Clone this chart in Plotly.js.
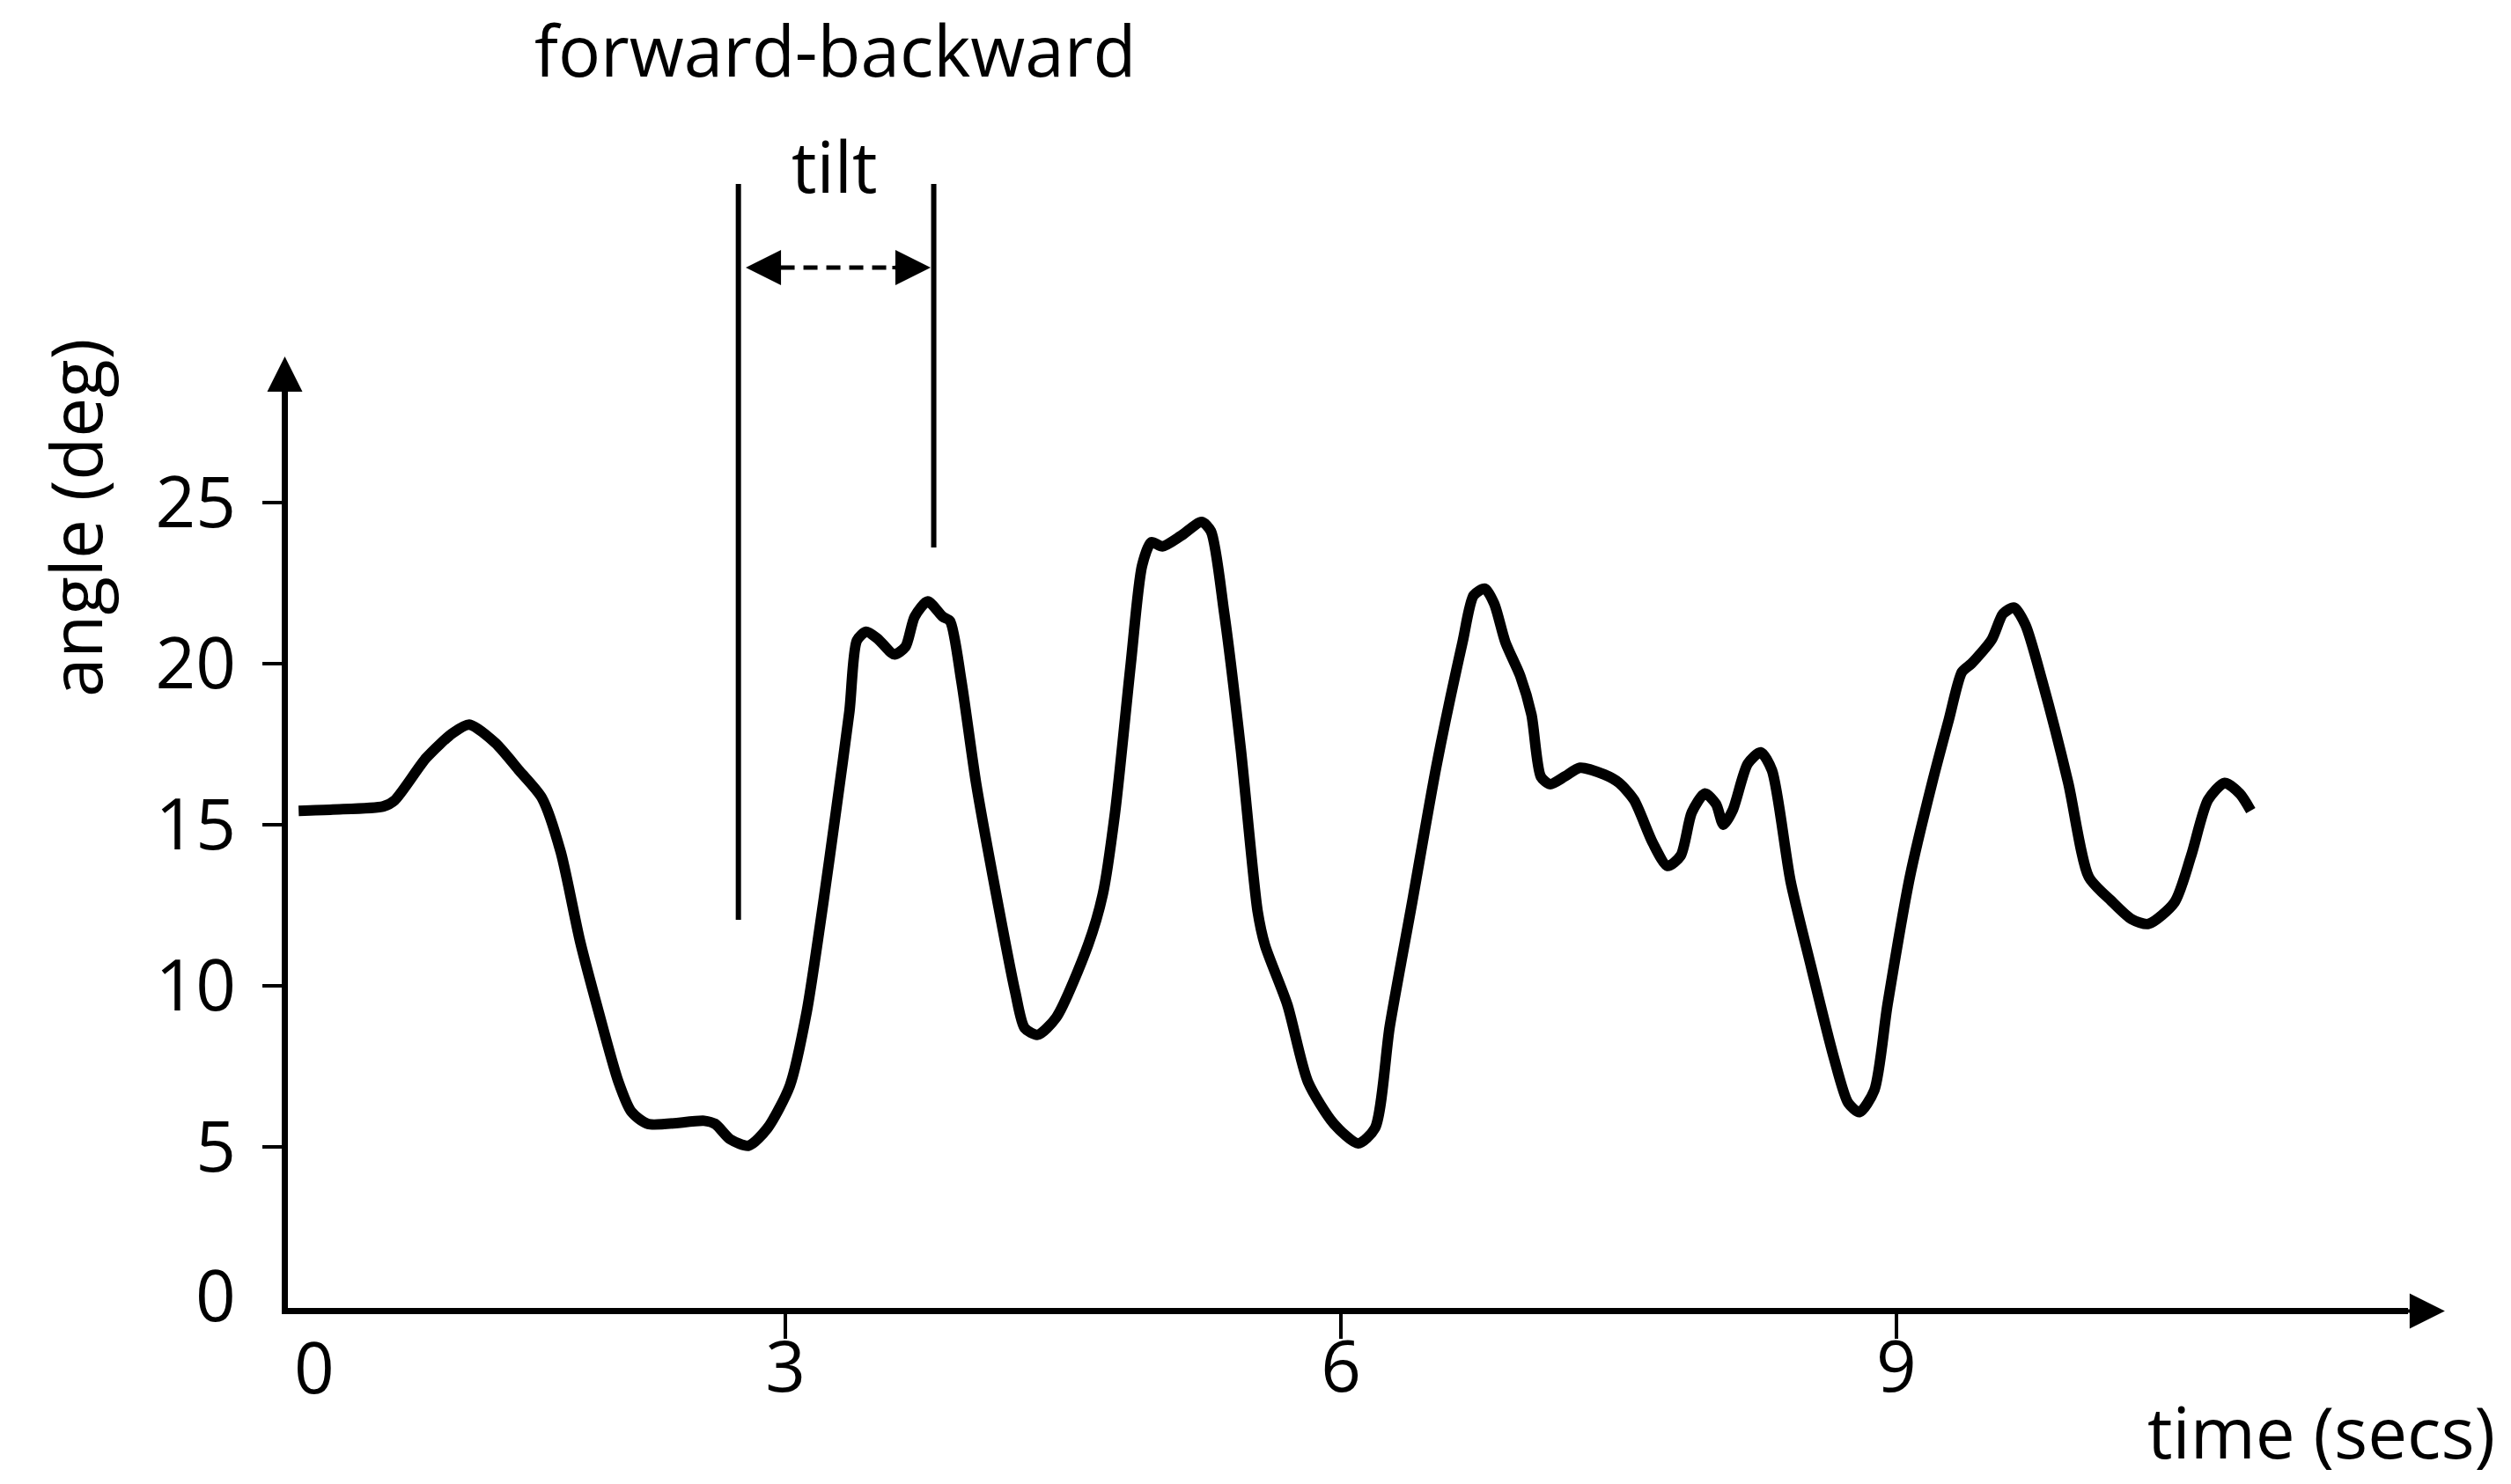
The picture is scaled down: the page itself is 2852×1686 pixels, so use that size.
<!DOCTYPE html>
<html>
<head>
<meta charset="utf-8">
<script src="https://cdn.plot.ly/plotly-3.0.1.min.js"></script>
<style>
  html, body { margin: 0; padding: 0; background: #fff; }
  #chart { width: 2852px; height: 1686px; }
</style>
</head>
<body>
<div id="chart"></div>
<script>
// angle trace (time in secs, angle in deg)
const timeSecs = [
  0.371, 0.555, 0.829, 0.890, 1.061, 1.202, 1.292, 1.433, 1.564, 1.685,
  1.786, 1.891, 1.987, 2.098, 2.168, 2.259, 2.561, 2.621, 2.701, 2.802,
  2.903, 3.024, 3.114, 3.205, 3.275, 3.346, 3.386, 3.436, 3.497, 3.587,
  3.648, 3.698, 3.768, 3.849, 3.889, 3.950, 4.030, 4.121, 4.241, 4.292,
  4.362, 4.463, 4.634, 4.714, 4.780, 4.865, 4.926, 4.976, 5.036, 5.137,
  5.248, 5.298, 5.369, 5.459, 5.550, 5.590, 5.711, 5.822, 5.963, 6.093,
  6.184, 6.264, 6.385, 6.516, 6.657, 6.717, 6.778, 6.828, 6.888, 6.969,
  7.029, 7.080, 7.130, 7.210, 7.291, 7.422, 7.502, 7.583, 7.684, 7.764,
  7.835, 7.895, 7.966, 8.026, 8.066, 8.116, 8.197, 8.267, 8.328, 8.428,
  8.539, 8.660, 8.740, 8.801, 8.881, 8.952, 9.073, 9.193, 9.284, 9.354,
  9.405, 9.515, 9.576, 9.636, 9.697, 9.787, 9.928, 10.039, 10.160, 10.270,
  10.361, 10.502, 10.592, 10.683, 10.773, 10.854, 10.914
];
const angleDeg = [
  15.43, 15.47, 15.57, 15.76, 17.08, 17.84, 18.11, 17.54, 16.67, 15.83,
  14.16, 11.38, 9.28, 7.02, 6.09, 5.71, 5.81, 5.71, 5.24, 5.04,
  5.58, 6.90, 9.16, 12.60, 15.50, 18.54, 20.72, 20.99, 20.78, 20.29,
  20.52, 21.46, 21.93, 21.46, 21.32, 19.47, 16.28, 13.37, 9.81, 8.69,
  8.48, 9.02, 11.26, 12.84, 15.37, 19.99, 23.04, 23.77, 23.64, 23.97,
  24.40, 24.11, 21.60, 17.36, 12.32, 11.26, 9.41, 7.02, 5.71, 5.11,
  5.58, 8.75, 12.60, 16.83, 20.67, 22.12, 22.33, 21.86, 20.67, 19.61,
  18.42, 16.49, 16.26, 16.50, 16.77, 16.56, 16.30, 15.77, 14.44, 13.72,
  14.04, 15.38, 15.97, 15.64, 15.00, 15.45, 16.89, 17.25, 16.69, 13.26,
  10.60, 7.82, 6.36, 6.08, 6.76, 9.41, 13.39, 16.30, 18.28, 19.74,
  20.00, 20.75, 21.55, 21.74, 21.20, 19.47, 16.30, 13.38, 12.64, 12.07,
  11.92, 12.59, 14.04, 15.77, 16.30, 15.97, 15.44
];

const xTicks = [3, 6, 9];
const yTicks = [5, 10, 15, 20, 25];

// tilt window markers (secs)
const tiltStart = 2.746;
const tiltEnd = 3.801;

const font = 'Open Sans, Noto Sans, sans-serif';

const trace = {
  x: timeSecs,
  y: angleDeg,
  type: 'scatter',
  mode: 'lines',
  line: { color: '#000', width: 12, shape: 'spline', smoothing: 0.7 },
  hoverinfo: 'skip',
  showlegend: false
};

const layout = {
  width: 2852,
  height: 1686,
  margin: { l: 327, r: 117, t: 444, b: 200 },
  paper_bgcolor: '#fff',
  plot_bgcolor: '#fff',
  font: { family: font, size: 80, color: '#000' },
  showlegend: false,
  xaxis: {
    range: [0.313, 11.763],
    showgrid: false,
    zeroline: false,
    showline: true,
    linecolor: '#000',
    linewidth: 7,
    ticks: 'outside',
    ticklen: 28,
    tickwidth: 4,
    tickcolor: '#000',
    tickvals: xTicks,
    ticktext: xTicks.map(String),
    tickfont: { family: font, size: 80, color: '#000' },
    ticklabelstandoff: -36
  },
  yaxis: {
    range: [0, 28.47],
    showgrid: false,
    zeroline: false,
    showline: true,
    linecolor: '#000',
    linewidth: 7,
    ticks: 'outside',
    ticklen: 22,
    tickwidth: 4,
    tickcolor: '#000',
    tickvals: yTicks,
    ticktext: yTicks.map(String),
    tickfont: { family: font, size: 80, color: '#000' },
    ticklabelstandoff: 14
  },
  shapes: [
    { type: 'line', xref: 'x', yref: 'paper', x0: tiltStart, x1: tiltStart, y0: 0.4232, y1: 1.2255,
      line: { color: '#000', width: 6 } },
    { type: 'line', xref: 'x', yref: 'paper', x0: tiltEnd, x1: tiltEnd, y0: 0.8292, y1: 1.2255,
      line: { color: '#000', width: 6 } },
    { type: 'line', xref: 'x', yref: 'paper', x0: 2.85, x1: 3.72, y0: 1.1344, y1: 1.1344,
      line: { color: '#000', width: 5, dash: '16px,10px' } }
  ],
  annotations: [
    // axis arrowheads
    { xref: 'paper', yref: 'paper', x: 1.0174, y: -0.00336, ax: -50, ay: 0, text: '',
      showarrow: true, arrowhead: 2, arrowwidth: 4, arrowsize: 2, arrowcolor: '#000' },
    { xref: 'paper', yref: 'paper', x: -0.00145, y: 1.0374, ax: 0, ay: 50, text: '',
      showarrow: true, arrowhead: 2, arrowwidth: 4, arrowsize: 2, arrowcolor: '#000' },
    // tilt double arrow heads
    { xref: 'x', yref: 'paper', x: 2.786, y: 1.1344, ax: 45, ay: 0, text: '',
      showarrow: true, arrowhead: 2, arrowwidth: 4, arrowsize: 2, arrowcolor: '#000' },
    { xref: 'x', yref: 'paper', x: 3.784, y: 1.1344, ax: -45, ay: 0, text: '',
      showarrow: true, arrowhead: 2, arrowwidth: 4, arrowsize: 2, arrowcolor: '#000' },
    // texts
    { xref: 'paper', yref: 'paper', x: 0.2579, y: 1.3724, text: 'forward-backward',
      showarrow: false, xanchor: 'center', yanchor: 'middle', font: { family: font, size: 80, color: '#000' } },
    { xref: 'paper', yref: 'paper', x: 0.2575, y: 1.2457, text: 'tilt',
      showarrow: false, xanchor: 'center', yanchor: 'middle', font: { family: font, size: 80, color: '#000' } },
    { xref: 'paper', yref: 'paper', x: 0.9591, y: -0.1334, text: 'time (secs)',
      showarrow: false, xanchor: 'center', yanchor: 'middle', font: { family: font, size: 80, color: '#000' } },
    { xref: 'paper', yref: 'paper', x: -0.1009, y: 0.8608, text: 'angle (deg)', textangle: -90,
      showarrow: false, xanchor: 'center', yanchor: 'middle', font: { family: font, size: 80, color: '#000' } },
    // origin zeros
    { xref: 'paper', yref: 'paper', x: -0.0341, y: 0.01536, text: '0',
      showarrow: false, xanchor: 'center', yanchor: 'middle', font: { family: font, size: 80, color: '#000' } },
    { xref: 'paper', yref: 'paper', x: 0.01246, y: -0.0633, text: '0',
      showarrow: false, xanchor: 'center', yanchor: 'middle', font: { family: font, size: 80, color: '#000' } }
  ]
};

Plotly.newPlot('chart', [trace], layout, { displayModeBar: false, staticPlot: true });
</script>
</body>
</html>
